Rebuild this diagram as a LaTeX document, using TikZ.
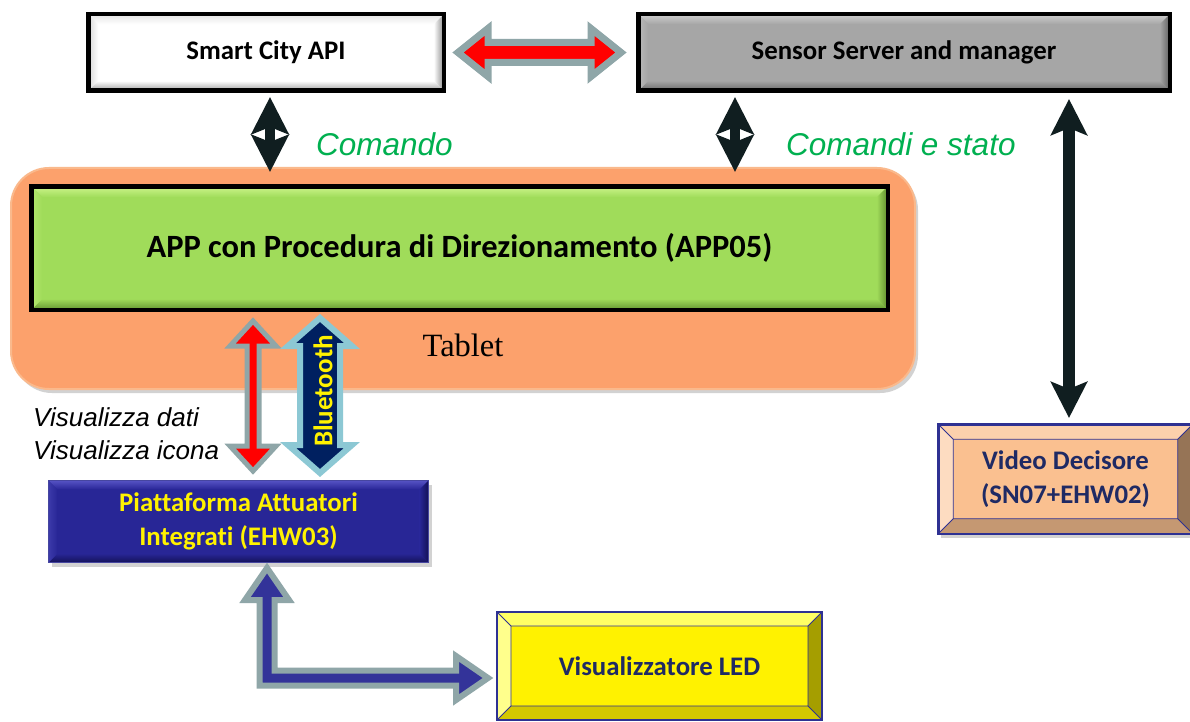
\documentclass[tikz,border=0pt]{standalone}
\usepackage{fontspec}
\setmainfont{Liberation Serif}
\newfontfamily\calibri[Ligatures=NoCommon]{Carlito}
\newfontfamily\arial{Liberation Sans}
\usetikzlibrary{calc,arrows.meta,shadows}

\definecolor{arrblack}{RGB}{16,30,32}
\definecolor{outgray}{RGB}{143,166,168}
\definecolor{btout}{RGB}{140,200,212}
\definecolor{btnavy}{RGB}{0,32,96}
\definecolor{lblue}{RGB}{51,51,153}
\definecolor{grn}{RGB}{0,176,80}
\definecolor{navytxt}{RGB}{31,42,100}
\definecolor{navyb}{RGB}{46,49,146}
\definecolor{tabfill}{RGB}{252,161,108}
\definecolor{tabdraw}{RGB}{250,185,140}
% api
\definecolor{apiT}{RGB}{228,228,228}
\definecolor{apiB}{RGB}{160,160,160}
\definecolor{apiL}{RGB}{215,215,215}
\definecolor{apiR}{RGB}{140,140,140}
% server
\definecolor{srvM}{RGB}{166,166,166}
\definecolor{srvT}{RGB}{205,205,205}
\definecolor{srvB}{RGB}{105,105,105}
\definecolor{srvL}{RGB}{185,185,185}
\definecolor{srvR}{RGB}{95,95,95}
% app
\definecolor{appM}{RGB}{160,220,90}
\definecolor{appT}{RGB}{205,245,140}
\definecolor{appB}{RGB}{100,150,50}
\definecolor{appL}{RGB}{180,232,110}
\definecolor{appR}{RGB}{95,140,45}
% piattaforma
\definecolor{ptM}{RGB}{40,38,150}
\definecolor{ptT}{RGB}{85,82,195}
\definecolor{ptB}{RGB}{20,18,90}
\definecolor{ptL}{RGB}{60,58,170}
\definecolor{ptR}{RGB}{18,16,85}
\definecolor{ptD}{RGB}{70,70,160}
% video
\definecolor{vdM}{RGB}{250,192,144}
\definecolor{vdT}{RGB}{252,208,172}
\definecolor{vdB}{RGB}{197,152,114}
\definecolor{vdL}{RGB}{253,220,193}
\definecolor{vdR}{RGB}{150,116,86}
% led
\definecolor{ldT}{RGB}{255,255,100}
\definecolor{ldB}{RGB}{212,200,0}
\definecolor{ldL}{RGB}{255,255,140}
\definecolor{ldR}{RGB}{165,158,0}

% vertical fat double arrow: #1 style, #2 top tip, #3 bottom tip, #4 shaft half width, #5 head half width, #6 head length
\newcommand\vfat[6]{%
  \path[#1] let \p1=#2, \p2=#3 in
    (\x1,\y1) -- (\x1+#5,\y1-#6) -- (\x1+#4,\y1-#6) -- (\x1+#4,\y2+#6) -- (\x1+#5,\y2+#6)
    -- (\x1,\y2) -- (\x1-#5,\y2+#6) -- (\x1-#4,\y2+#6) -- (\x1-#4,\y1-#6) -- (\x1-#5,\y1-#6) -- cycle;}
% horizontal fat double arrow
\newcommand\hfat[6]{%
  \path[#1] let \p1=#2, \p2=#3 in
    (\x1,\y1) -- (\x1+#6,\y1+#5) -- (\x1+#6,\y1+#4) -- (\x2-#6,\y1+#4) -- (\x2-#6,\y1+#5)
    -- (\x2,\y1) -- (\x2-#6,\y1-#5) -- (\x2-#6,\y1-#4) -- (\x1+#6,\y1-#4) -- (\x1+#6,\y1-#5) -- cycle;}

\tikzset{
  softbevel/.style n args={6}{path picture={
    \coordinate (NW) at (path picture bounding box.north west);
    \coordinate (NE) at (path picture bounding box.north east);
    \coordinate (SW) at (path picture bounding box.south west);
    \coordinate (SE) at (path picture bounding box.south east);
    \shade[top color=#3, bottom color=#2] (NW) -- (NE) -- ($(NE)+(-#1,-#1)$) -- ($(NW)+(#1,-#1)$) -- cycle;
    \shade[top color=#2, bottom color=#4] (SW) -- (SE) -- ($(SE)+(-#1,#1)$) -- ($(SW)+(#1,#1)$) -- cycle;
    \shade[left color=#5, right color=#2] (NW) -- (SW) -- ($(SW)+(#1,#1)$) -- ($(NW)+(#1,-#1)$) -- cycle;
    \shade[left color=#2, right color=#6] (NE) -- (SE) -- ($(SE)+(-#1,#1)$) -- ($(NE)+(-#1,-#1)$) -- cycle;
  }},
  sharpbevel/.style n args={7}{path picture={
    \coordinate (NW) at (path picture bounding box.north west);
    \coordinate (NE) at (path picture bounding box.north east);
    \coordinate (SW) at (path picture bounding box.south west);
    \coordinate (SE) at (path picture bounding box.south east);
    \fill[#3] (NW) -- (NE) -- ($(NE)+(-#1,-#1)$) -- ($(NW)+(#1,-#1)$) -- cycle;
    \fill[#4] (SW) -- (SE) -- ($(SE)+(-#1,#1)$) -- ($(SW)+(#1,#1)$) -- cycle;
    \fill[#5] (NW) -- (SW) -- ($(SW)+(#1,#1)$) -- ($(NW)+(#1,-#1)$) -- cycle;
    \fill[#6] (NE) -- (SE) -- ($(SE)+(-#1,#1)$) -- ($(NE)+(-#1,-#1)$) -- cycle;
    \draw[#7, line width=0.9pt] ($(NW)+(#1,-#1)$) rectangle ($(SE)+(-#1,#1)$)
      (NW) -- ++(#1,-#1) (NE) -- ++(-#1,-#1) (SW) -- ++(#1,#1) (SE) -- ++(-#1,#1);
  }},
  boxfont/.style={font=\calibri\bfseries\fontsize{26.8}{34}\selectfont, align=center},
  topbox/.style={draw=black, line width=4.5pt, boxfont, inner sep=0pt},
  blk/.style={draw=arrblack, line width=10pt,
    {Stealth[length=37pt,width=37pt,inset=7pt]}-{Stealth[length=37pt,width=37pt,inset=7pt]}},
  blklong/.style={draw=arrblack, line width=12pt,
    {Stealth[length=36pt,width=36pt,inset=7pt]}-{Stealth[length=36pt,width=36pt,inset=7pt]}},
  redfat/.style={draw=outgray, fill=red, line width=7pt, line join=miter},
  redthin/.style={draw=outgray, fill=red, line width=5pt, line join=miter},
  btfat/.style={draw=btout, fill=btnavy, line width=6pt, line join=miter},
  bluefat/.style={draw=outgray, fill=lblue, line width=6pt, line join=miter},
  greenlbl/.style={font=\arial\itshape\fontsize{31.5}{36}\selectfont, text=grn, anchor=base west, inner sep=0pt},
  blacklbl/.style={font=\arial\itshape\fontsize{26}{33}\selectfont, text=black, anchor=base west, inner sep=0pt},
  shad/.style={drop shadow={opacity=0.35, shadow xshift=3pt, shadow yshift=-4pt}},
}

\begin{document}
\begin{tikzpicture}[x=1pt,y=-1pt]
\useasboundingbox (0,0) rectangle (1190,722);
\fill[white] (0,0) rectangle (1190,722);

% Tablet
\node[draw=tabdraw, fill=tabfill, line width=2pt, rounded corners=38pt, shad,
      minimum width=904pt, minimum height=221pt, inner sep=0pt] (tablet) at (463,278.5) {};
\node[font=\fontsize{32.5}{36}\selectfont, anchor=base, inner sep=0pt] (tabtxt) at (463,356) {Tablet};

% Top boxes
\node[topbox, fill=white, minimum width=355.5pt, minimum height=76.5pt,
      softbevel={10pt}{white}{apiT}{apiB}{apiL}{apiR}]
      (api) at (266,52.5) {Smart City API};
\node[topbox, fill=srvM, minimum width=531.5pt, minimum height=76.5pt,
      softbevel={10pt}{srvM}{srvT}{srvB}{srvL}{srvR}]
      (server) at (904,52.5) {Sensor Server and manager};

% APP box
\node[topbox, fill=appM, minimum width=856.5pt, minimum height=123.5pt,
      font=\calibri\bfseries\fontsize{32.5}{38}\selectfont,
      softbevel={11pt}{appM}{appT}{appB}{appL}{appR}]
      (app) at (459.5,248) {APP con Procedura di Direzionamento (APP05)};

% Piattaforma
\node[draw=ptD, line width=1pt, boxfont, text=yellow, inner sep=0pt, shad,
      fill=ptM, minimum width=380pt, minimum height=82pt,
      softbevel={9pt}{ptM}{ptT}{ptB}{ptL}{ptR}]
      (piat) at (238.5,521.5) {Piattaforma Attuatori\\Integrati (EHW03)};

% Video Decisore
\node[draw=navyb, line width=2.5pt, boxfont, text=navytxt, inner sep=0pt, shad,
      fill=vdM, minimum width=254.5pt, minimum height=109.5pt,
      sharpbevel={15pt}{vdM}{vdT}{vdB}{vdL}{vdR}{navyb}]
      (video) at (1065.5,479) {Video Decisore\\(SN07+EHW02)};

% Visualizzatore LED
\node[draw=navyb, line width=2pt, boxfont, text=navytxt, inner sep=0pt,
      fill=yellow, minimum width=325pt, minimum height=108pt,
      sharpbevel={14pt}{yellow}{ldT}{ldB}{ldL}{ldR}{navyb}]
      (led) at (659.5,666) {Visualizzatore LED};

% Black arrows
\draw[blk] ($(api.south)+(4,4)$) -- ($(api.south |- tablet.north)+(4,5)$);
\draw[blk] ($(server.south west)+(99,4)$) -- ($(server.south west |- tablet.north)+(99,5)$);
\draw[blklong] ($(server.south)+(165,6)$) -- ($(video.north)+(3.5,-5)$);

% Red horizontal arrow
\hfat{redfat}{($(api.east)+(12,0)$)}{($(server.west)+(-15,0)$)}{10pt}{24pt}{30pt}

% Red vertical arrow and Bluetooth arrow
\vfat{redthin}{($(piat.north |- app.south)+(14.5,9)$)}{($(piat.north)+(14.5,-9)$)}{6pt}{23pt}{25pt}
\vfat{btfat}{($(piat.north |- app.south)+(81.5,6)$)}{($(piat.north)+(81.5,-7)$)}{20pt}{32pt}{28pt}
\node[rotate=90, text=yellow, font=\calibri\bfseries\fontsize{27}{30}\selectfont, inner sep=0pt] (bt) at (323,391) {Bluetooth};

% L-shaped arrow
\path[bluefat] let \p1=($(piat.south)+(28.5,5)$), \p2=($(led.west)+(-8,12)$) in
  (\x1,\y1) -- (\x1+22pt,\y1-32pt) -- (\x1+7.5pt,\y1-32pt) -- (\x1+7.5pt,\y2+7.5pt)
  -- (\x2-32pt,\y2+7.5pt) -- (\x2-32pt,\y2+22pt) -- (\x2,\y2) -- (\x2-32pt,\y2-22pt)
  -- (\x2-32pt,\y2-7.5pt) -- (\x1-7.5pt,\y2-7.5pt) -- (\x1-7.5pt,\y1-32pt) -- (\x1-22pt,\y1-32pt) -- cycle;

% Labels
\node[greenlbl] (l1) at (316,156) {Comando};
\node[greenlbl] (l2) at (786,156) {Comandi e stato};
\node[blacklbl] (l3) at (33,426) {Visualizza dati};
\node[blacklbl] (l4) at (33,459) {Visualizza icona};
\end{tikzpicture}
\end{document}
